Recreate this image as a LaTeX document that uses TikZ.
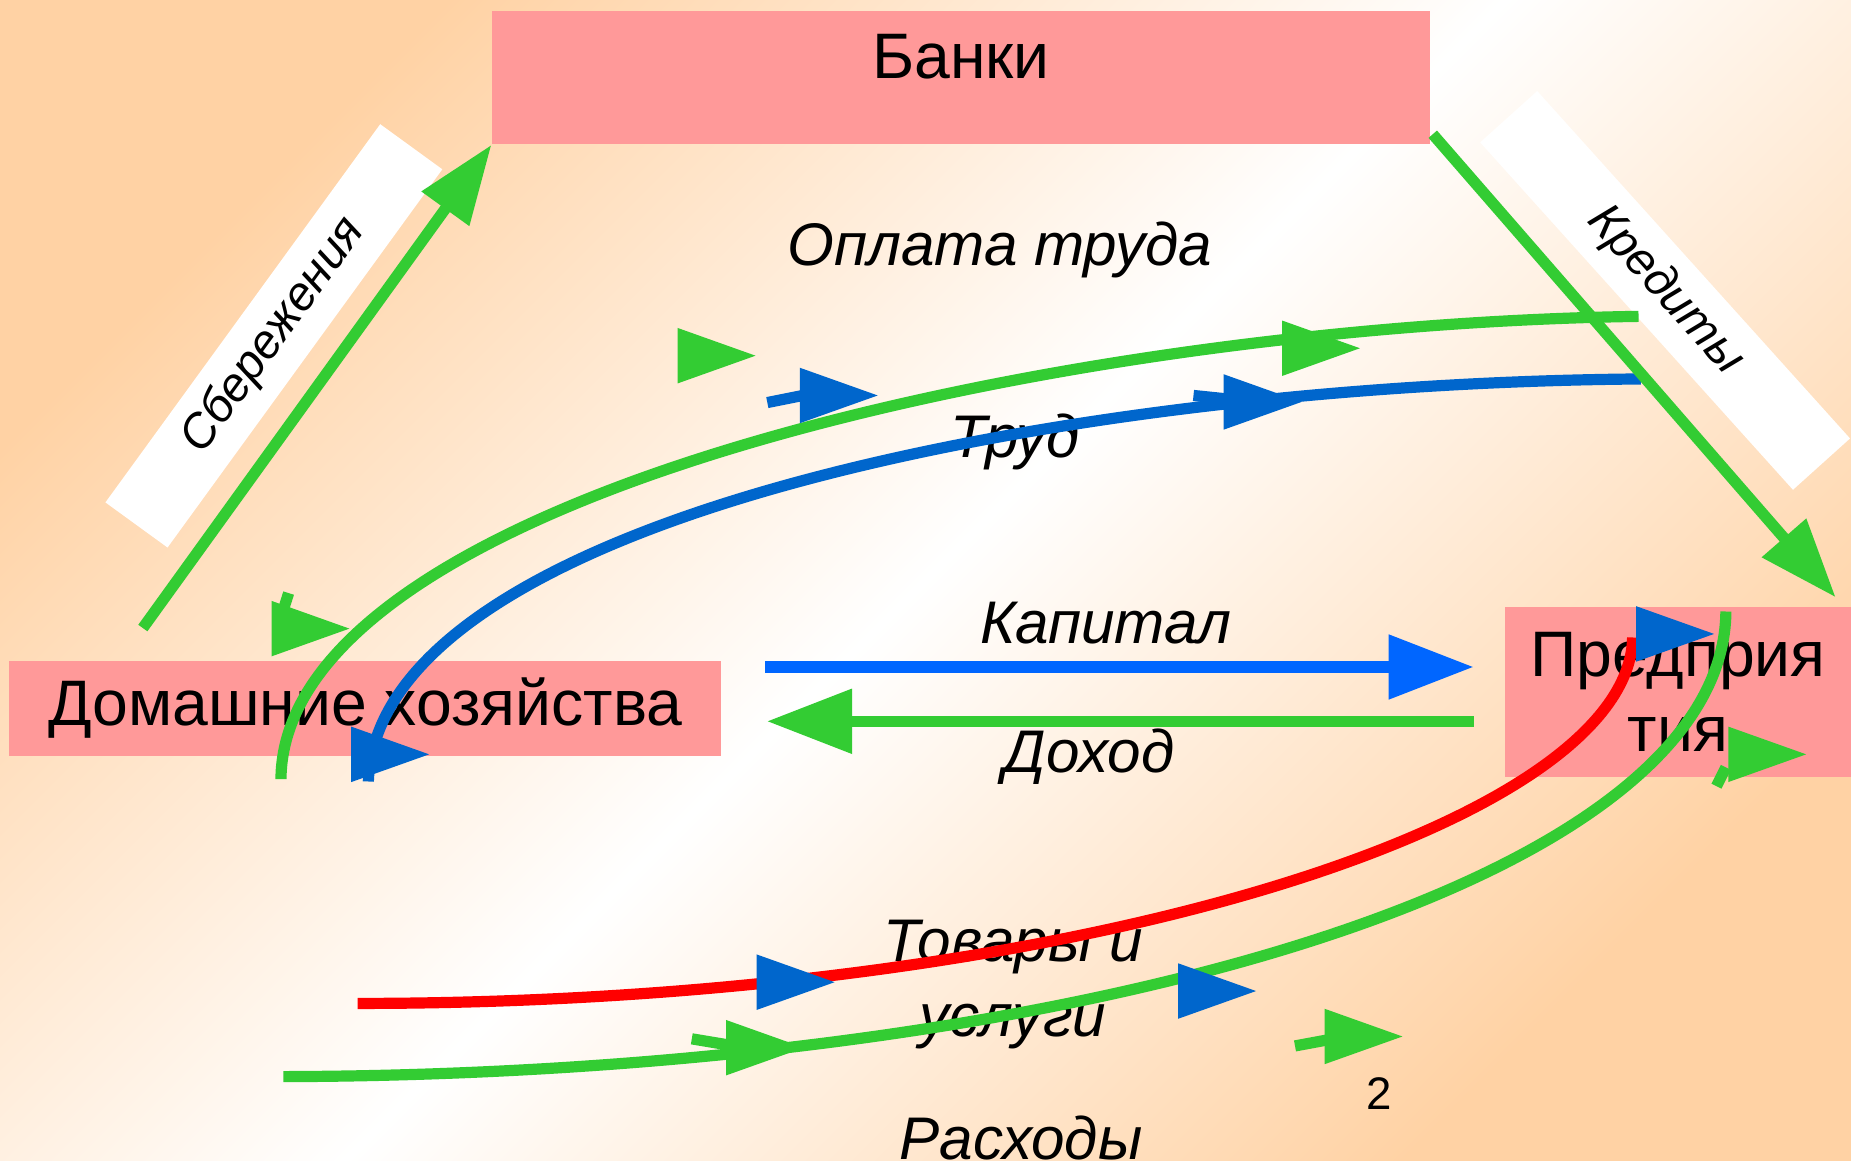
\documentclass[tikz,border=0pt]{standalone}
\usepackage{fontspec}
\setmainfont{Liberation Sans}
\usetikzlibrary{arrows.meta}

\definecolor{zel}{RGB}{51,204,51}
\definecolor{sin}{RGB}{0,102,204}
\definecolor{goluboj}{RGB}{0,102,255}
\definecolor{kras}{RGB}{255,0,0}
\definecolor{rozov}{RGB}{255,153,153}
\definecolor{persik}{RGB}{255,210,164}

\tikzset{
  sektor/.style={fill=rozov, inner sep=0pt, font=\fontsize{15.5}{18.2}\selectfont},
  podpis/.style={font=\fontsize{14.5}{18.2}\selectfont\itshape},
  lenta/.style={fill=white, inner sep=0pt, minimum width=3.96cm, minimum height=0.65cm, font=\fontsize{11.5}{13}\selectfont\itshape},
  potok/.style={line width=2.7pt},
  strelka/.style={-{Triangle[length=19pt,width=13.5pt]}},
  strelkab/.style={-{Triangle[length=20.5pt,width=15pt]}}
}
% треугольник-стрелка: цвет, x основания, y середины
\newcommand{\ugolok}[3]{\fill[#1] (#2,#3) ++(0,0.235) -- ++(0.66,-0.235) -- ++(-0.66,-0.235) -- cycle;}

\begin{document}
\begin{tikzpicture}
  % фон
  \useasboundingbox (0,0) rectangle (15.68,9.83);
  \shade[top color=persik, bottom color=persik, middle color=white, shading angle=45] (0,0) rectangle (15.68,9.83);
  % подписи потоков
  \node[podpis, anchor=base] (oplata) at (8.47,7.585) {Оплата труда};
  \node[podpis, anchor=base] (trud) at (8.60,5.954) {Труд};
  \node[podpis, anchor=base] (kapital) at (9.365,4.38) {Капитал};
  \node[podpis, anchor=base] (dohod) at (9.227,3.283) {Доход};
  \node[podpis, align=center] (tovary) at (8.58,1.49) {Товары и\\услуги};
  \node[podpis, anchor=base] (rashody) at (8.65,0.01) {Расходы};
  \node[font=\fontsize{11}{13}\selectfont, anchor=base] (nomer) at (11.68,0.43) {2};
  % ленты
  \node[lenta, rotate=54] (sberezh) at (2.32,6.985) {Сбережения};
  \node[lenta, rotate=-48] (kredity) at (14.105,7.37) {Кредиты};
  % секторы
  \node[sektor, minimum width=7.94cm, minimum height=1.13cm, text depth=0.36cm] (banki) at (8.14,9.175) {Банки};
  \node[sektor, minimum width=6.03cm, minimum height=0.80cm] (dom) at (3.095,3.83) {Домашние хозяйства};
  \node[sektor, minimum width=2.93cm, minimum height=1.44cm, align=center] (pred) at (14.215,3.97) {Предприя\\тия};
  % концы кривых
  \coordinate (o1) at (13.88,7.15);
  \coordinate (o2) at (2.38,3.23);
  \coordinate (t1) at (13.90,6.62);
  \coordinate (t2) at (3.12,3.21);
  \coordinate (u1) at (3.03,1.33);
  \coordinate (u2) at (13.83,4.43);
  \coordinate (r1) at (2.40,0.71);
  \coordinate (r2) at (14.62,4.65);
  % оплата труда
  \draw[potok, zel] (o1) .. controls (9.00,7.08) and (2.40,5.63) .. (o2);
  % труд
  \draw[potok, sin] (t1) .. controls (9.00,6.58) and (3.20,5.43) .. (t2);
  % товары и услуги
  \draw[potok, kras] (u1) .. controls (9.00,1.33) and (13.80,2.83) .. (u2);
  % расходы
  \draw[potok, zel] (r1) .. controls (9.00,0.73) and (14.60,2.33) .. (r2);
  % сбережения и кредиты
  \coordinate (s0) at (1.21,4.51);
  \coordinate (k1) at (15.55,4.77);
  \draw[potok, zel, strelka] (s0) -- (banki.south west);
  \draw[potok, zel, strelka] ([xshift=0.02cm,yshift=0.09cm]banki.south east) -- (k1);
  % капитал и доход
  \draw[potok, goluboj, strelkab] ([xshift=0.365cm,yshift=0.35cm]dom.east) -- ([xshift=-0.26cm,yshift=0.21cm]pred.west);
  \draw[potok, zel, strelkab] ([xshift=-0.26cm,yshift=-0.25cm]pred.west) -- ([xshift=0.38cm,yshift=-0.11cm]dom.east);
  % отдельные наконечники
  \ugolok{zel}{5.74}{6.817}
  \draw[potok, sin] (6.50,6.42) -- (6.80,6.48);
  \ugolok{sin}{6.775}{6.48}
  \draw[potok, zel] (2.445,4.806) -- (2.40,4.664);
  \ugolok{zel}{2.30}{4.505}
  \ugolok{zel}{10.86}{6.88}
  \draw[potok, sin] (10.11,6.48) -- (10.40,6.45);
  \ugolok{sin}{10.365}{6.425}
  \ugolok{sin}{2.975}{3.44}
  \ugolok{sin}{6.41}{1.51}
  \ugolok{sin}{9.98}{1.435}
  \ugolok{sin}{13.86}{4.46}
  \draw[potok, zel] (5.86,1.03) -- (6.16,0.98);
  \ugolok{zel}{6.15}{0.955}
  \draw[potok, zel] (10.97,0.97) -- (11.24,1.02);
  \ugolok{zel}{11.22}{1.05}
  \draw[potok, zel] (14.54,3.17) -- (14.62,3.33);
  \ugolok{zel}{14.64}{3.44}
\end{tikzpicture}
\end{document}
